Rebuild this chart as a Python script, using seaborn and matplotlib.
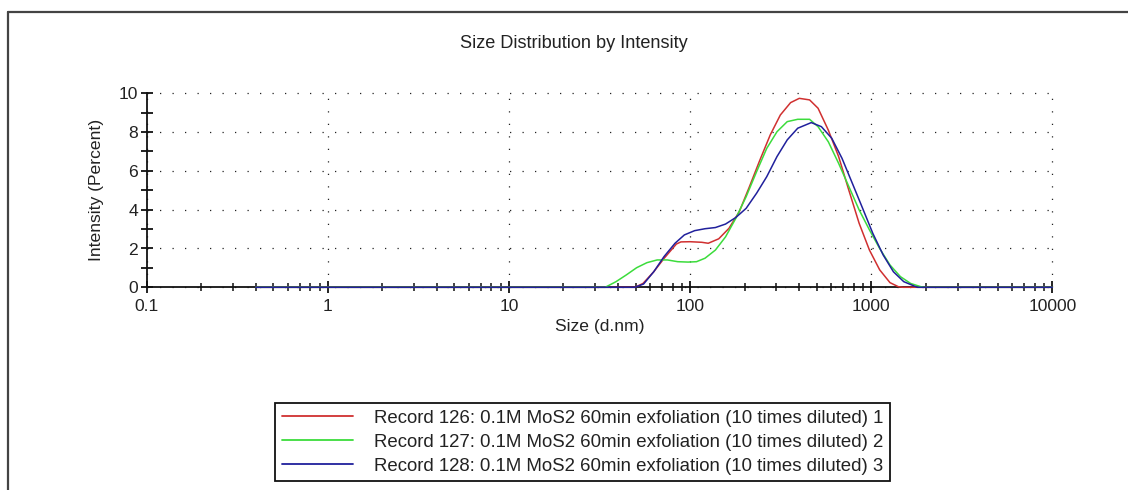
import numpy as np
import pandas as pd
import matplotlib
matplotlib.use("Agg")
import matplotlib.pyplot as plt
import seaborn as sns
from matplotlib.ticker import FixedLocator, LogLocator, NullFormatter, FixedFormatter
from matplotlib.lines import Line2D

# ---- data ----
labels = [
    "Record 126: 0.1M MoS2 60min exfoliation (10 times diluted) 1",
    "Record 127: 0.1M MoS2 60min exfoliation (10 times diluted) 2",
    "Record 128: 0.1M MoS2 60min exfoliation (10 times diluted) 3",
]
colors = ["#d03030", "#3cdc3c", "#20209c"]

size_126 = [0.4, 49.6, 55, 63, 72, 84, 89, 100, 116, 126, 144, 164, 187, 213, 243,
            277, 315, 359, 401, 457, 509, 580, 661, 753, 858, 978, 1114, 1270, 1413,
            1500, 10000]
int_126 = [0, 0, 0.2, 0.8, 1.5, 2.23, 2.34, 2.35, 2.32, 2.27, 2.5, 3.04, 3.9, 5.2, 6.56,
           7.85, 8.88, 9.52, 9.74, 9.66, 9.23, 8.1, 6.74, 5.0, 3.3, 1.92, 0.9, 0.24, 0.03,
           0, 0]

size_127 = [0.4, 34, 39, 44.5, 50.7, 57.8, 65.8, 75, 85.5, 97.5, 108.6, 121, 138, 157,
            179, 204, 233, 265, 302, 344, 393, 457, 509, 580, 661, 753, 858, 978, 1114,
            1270, 1450, 1650, 1880, 2000, 10000]
int_127 = [0, 0, 0.29, 0.64, 1.01, 1.27, 1.41, 1.41, 1.32, 1.3, 1.32, 1.5, 1.92, 2.6,
           3.56, 4.67, 5.96, 7.16, 8.02, 8.54, 8.66, 8.66, 8.28, 7.5, 6.39, 5.19, 3.99,
           2.96, 2.0, 1.15, 0.55, 0.2, 0.03, 0, 0]

size_128 = [0.4, 49.6, 55.4, 63, 71.8, 82.6, 93, 106, 121, 138, 157, 179, 204, 233, 265,
            302, 344, 393, 467, 531, 606, 690, 787, 897, 1021, 1164, 1327, 1513, 1724,
            1800, 10000]
int_128 = [0, 0, 0.17, 0.8, 1.58, 2.27, 2.7, 2.92, 3.02, 3.08, 3.26, 3.6, 4.07, 4.85, 5.7,
           6.74, 7.6, 8.2, 8.49, 8.28, 7.68, 6.65, 5.36, 4.07, 2.78, 1.67, 0.8, 0.29, 0.07,
           0, 0]

x_ticks = [0.1, 1, 10, 100, 1000, 10000]
x_tick_labels = ["0.1", "1", "10", "100", "1000", "10000"]
y_ticks = [0, 2, 4, 6, 8, 10]
y_minor = [1, 3, 5, 7, 9]

title = "Size Distribution by Intensity"
xlabel = "Size (d.nm)"
ylabel = "Intensity (Percent)"

# ---- build table ----
frames = []
for lab, s, v in zip(labels, [size_126, size_127, size_128], [int_126, int_127, int_128]):
    frames.append(pd.DataFrame({"size": s, "intensity": v, "record": lab}))
df = pd.concat(frames, ignore_index=True)

sns.set_style("white")
plt.rcParams["font.family"] = ["Liberation Sans", "DejaVu Sans"]
FS = 12.6
TXT = "#222222"

W, H = 1128, 490
fig = plt.figure(figsize=(W / 100, H / 100), dpi=100)
L, R, T, B = 146.7, 1052.3, 93.3, 287.3
ax = fig.add_axes([L / W, 1 - B / H, (R - L) / W, (B - T) / H])

sns.lineplot(data=df, x="size", y="intensity", hue="record", hue_order=labels,
             palette=dict(zip(labels, colors)), estimator=None, sort=False,
             linewidth=1.1, ax=ax, legend=False)
for ln in ax.lines:
    ln.set_zorder(3)
    ln.set_clip_on(False)

ax.set_xscale("log")
ax.set_xlim(0.1, 10000)
ax.set_ylim(0, 10)

ax.xaxis.set_major_locator(FixedLocator(x_ticks))
ax.xaxis.set_major_formatter(FixedFormatter(x_tick_labels))
ax.xaxis.set_minor_locator(LogLocator(base=10, subs=np.arange(2, 10), numticks=20))
ax.xaxis.set_minor_formatter(NullFormatter())
ax.yaxis.set_major_locator(FixedLocator(y_ticks))
ax.yaxis.set_minor_locator(FixedLocator(y_minor))

ax.grid(True, which="major", color="#222222", linewidth=0.9, linestyle=(0, (1, 9)))
for g in ax.get_xgridlines() + ax.get_ygridlines():
    g.set_clip_on(False)

for sp in ["top", "right"]:
    ax.spines[sp].set_visible(False)
for sp in ["left", "bottom"]:
    ax.spines[sp].set_color("#111111")
    ax.spines[sp].set_linewidth(1.3)

ax.tick_params(axis="x", which="both", bottom=True, top=False)
ax.tick_params(axis="y", which="both", left=True, right=False)
ax.tick_params(axis="x", which="major", direction="inout", length=9, width=1.3,
               pad=4, labelsize=FS, colors="#111111", labelcolor=TXT)
ax.tick_params(axis="x", which="minor", direction="inout", length=6, width=1.1,
               colors="#111111")
ax.tick_params(axis="y", which="both", direction="inout", length=8, width=1.3,
               pad=2, labelsize=FS, colors="#111111", labelcolor=TXT)

ax.set_xlabel(xlabel, fontsize=FS, color=TXT)
ax.set_ylabel(ylabel, fontsize=FS, color=TXT)
ax.xaxis.set_label_coords(0.5, (B - 327) / (B - T))
ax.xaxis.label.set_va("center")
ax.yaxis.set_label_coords((97 - L) / (R - L), 0.5)
ax.yaxis.label.set_va("center")

fig.text(574 / W, 1 - 44 / H, title, ha="center", va="center", fontsize=13.1, color=TXT)

LFS = 13.4
handles = [Line2D([], [], color=c, linewidth=1.3) for c in colors]
leg = fig.legend(handles, labels, loc="upper left", bbox_to_anchor=(275 / W, 1 - 403 / H),
                 frameon=True, fancybox=False, edgecolor="#111111", framealpha=1,
                 borderpad=0.35, handlelength=3.85, handletextpad=1.1, labelspacing=0.38,
                 borderaxespad=0, fontsize=LFS)
leg.get_frame().set_linewidth(1.3)
for t in leg.get_texts():
    t.set_color(TXT)

# outer border (top and left visible, rest beyond image)
fig.add_artist(Line2D([8 / W, 1.0], [1 - 12 / H, 1 - 12 / H], color="#444444",
                      linewidth=1.6, transform=fig.transFigure))
fig.add_artist(Line2D([8 / W, 8 / W], [0.0, 1 - 12 / H], color="#444444",
                      linewidth=1.6, transform=fig.transFigure))

fig.savefig("out.png", dpi=100)
